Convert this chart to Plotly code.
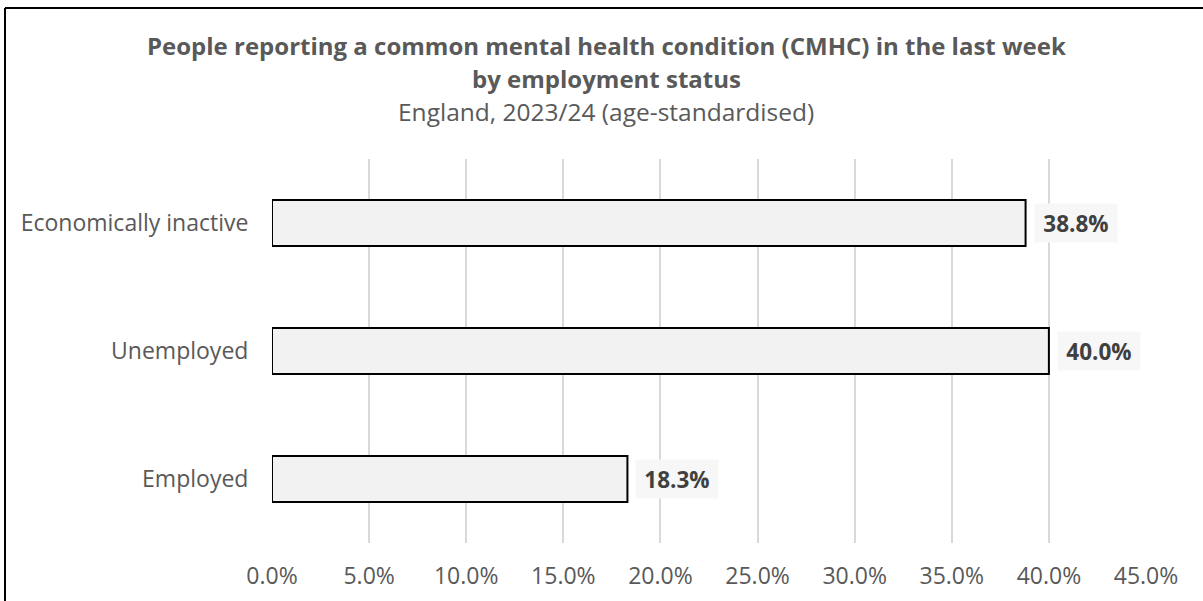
import plotly.graph_objects as go

# Data
categories = ["Employed", "Unemployed", "Economically inactive"]
cmhc_pct = [18.3, 40.0, 38.8]
x_ticks = [0, 5, 10, 15, 20, 25, 30, 35, 40, 45]
x_tick_labels = [f"{v:.1f}%" for v in x_ticks]

title_line1 = "People reporting a common mental health condition (CMHC) in the last week"
title_line2 = "by employment status"
subtitle = "England, 2023/24 (age-standardised)"

# Layout geometry (pixels)
W, H = 1203, 601
ML, MR, MT, MB = 272, 57, 159, 58
PW, PH = W - ML - MR, H - MT - MB

FONT = "Open Sans"
GREY = "#595959"


def px_x(px):
    return (px - ML) / PW


def px_y(py):
    return (H - MB - py) / PH


fig = go.Figure()
fig.add_trace(go.Bar(
    x=cmhc_pct,
    y=categories,
    orientation="h",
    width=0.36,
    marker=dict(color="#f2f2f2", line=dict(color="#000000", width=2)),
    hoverinfo="skip",
))

# Value labels in light boxes to the right of each bar
for cat, val in zip(categories, cmhc_pct):
    fig.add_annotation(
        x=val, y=cat, xref="x", yref="y",
        text=f"<b>{val:.1f}%</b>",
        showarrow=False, xanchor="left", yanchor="middle", xshift=8,
        font=dict(family=FONT, size=22.5, color="#404040"),
        bgcolor="#f7f7f7", borderpad=5, width=72, height=28,
    )

# Title block
for text, py, bold in [(title_line1, 45, True), (title_line2, 78, True), (subtitle, 111, False)]:
    fig.add_annotation(
        x=px_x(606), y=px_y(py), xref="paper", yref="paper",
        text=f"<b>{text}</b>" if bold else text,
        showarrow=False, xanchor="center", yanchor="middle",
        font=dict(family=FONT, size=24 if bold else 24.5, color=GREY),
    )

# Chart frame (left and top edges)
fig.add_shape(type="line", xref="paper", yref="paper",
              x0=px_x(5), x1=px_x(5), y0=px_y(8), y1=px_y(640),
              line=dict(color="#000000", width=2))
fig.add_shape(type="line", xref="paper", yref="paper",
              x0=px_x(5), x1=px_x(1240), y0=px_y(8), y1=px_y(8),
              line=dict(color="#000000", width=2))

fig.update_layout(
    width=W, height=H,
    margin=dict(l=ML, r=MR, t=MT, b=MB, autoexpand=False),
    paper_bgcolor="white", plot_bgcolor="white",
    showlegend=False,
    font=dict(family=FONT, size=23, color=GREY),
    xaxis=dict(
        range=[0, 45], tickvals=x_ticks, ticktext=x_tick_labels,
        showgrid=True, gridcolor="#d9d9d9", gridwidth=1.5,
        zeroline=False, showline=False,
        ticks="outside", ticklen=12, tickcolor="rgba(0,0,0,0)",
        tickfont=dict(family=FONT, size=23, color=GREY),
        fixedrange=True,
    ),
    yaxis=dict(
        categoryorder="array", categoryarray=categories,
        showgrid=False, zeroline=False, showline=False,
        ticks="outside", ticklen=18, tickcolor="rgba(0,0,0,0)",
        tickfont=dict(family=FONT, size=23, color=GREY),
        fixedrange=True,
    ),
)

fig.write_html("out.html")
